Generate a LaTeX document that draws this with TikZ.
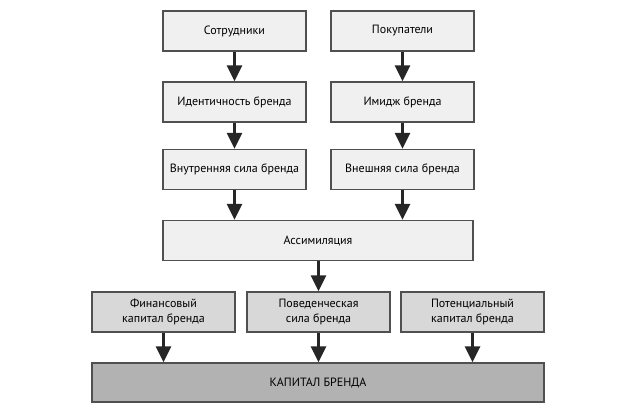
\documentclass[tikz,border=0pt]{standalone}
\usepackage{fontspec}
\setmainfont{PT Sans}
\usepackage{tikz}
\usetikzlibrary{arrows.meta}
\definecolor{boxlight}{HTML}{F0F0F0}
\definecolor{boxmid}{HTML}{D8D8D8}
\definecolor{boxdark}{HTML}{B2B2B2}
\definecolor{boxline}{HTML}{505050}
\tikzset{
	blk/.style={draw=boxline, line width=1.3pt, inner sep=0pt, align=center, font=\fontsize{12}{14.5}\selectfont},
	upper/.style={blk, fill=boxlight, minimum width=143pt, minimum height=40pt},
	lower/.style={blk, fill=boxmid, minimum width=143pt, minimum height=40pt},
	arr/.style={line width=3pt, -{Triangle[width=15pt,length=16pt]}, black!85}
}

\begin{document}
\begin{tikzpicture}[x=1pt, y=-1pt]
		%%%%% START %%%%%
		\useasboundingbox (0, 0) rectangle (620, 413);
		
		\node[upper] (sotr) at (234.5, 31) {Сотрудники};
		\node[upper] (pokup) at (402.5, 31) {Покупатели};
		
		\node[upper] (ident) at (234.5, 102) {Идентичность бренда};
		\node[upper] (imidzh) at (402.5, 102) {Имидж бренда};
		
		\node[upper] (vnutr) at (234.5, 169.5) {Внутренняя сила бренда};
		\node[upper] (vnesh) at (402.5, 169.5) {Внешняя сила бренда};
		
		\node[upper, minimum width=310pt] (assim) at (318, 240.5) {Ассимиляция};
		
		\node[lower] (fin) at (163.5, 312) {Финансовый\\капитал бренда};
		\node[lower] (pov) at (318.5, 312) {Поведенческая\\сила бренда};
		\node[lower] (pot) at (472.5, 312) {Потенциальный\\капитал бренда};
		
		\node[blk, fill=boxdark, minimum width=452pt, minimum height=39pt] (kap) at (318, 382.5) {КАПИТАЛ БРЕНДА};
		
		\draw[arr] (sotr) -- (ident);
		\draw[arr] (pokup) -- (imidzh);
		\draw[arr] (ident) -- (vnutr);
		\draw[arr] (imidzh) -- (vnesh);
		\draw[arr] (vnutr) -- (vnutr |- assim.north);
		\draw[arr] (vnesh) -- (vnesh |- assim.north);
		\draw[arr] (assim.south -| pov) -- (pov);
		\draw[arr] (fin) -- (fin |- kap.north);
		\draw[arr] (pov) -- (pov |- kap.north);
		\draw[arr] (pot) -- (pot |- kap.north);
		
		%%%%% END %%%%%
	\end{tikzpicture}
\end{document}
